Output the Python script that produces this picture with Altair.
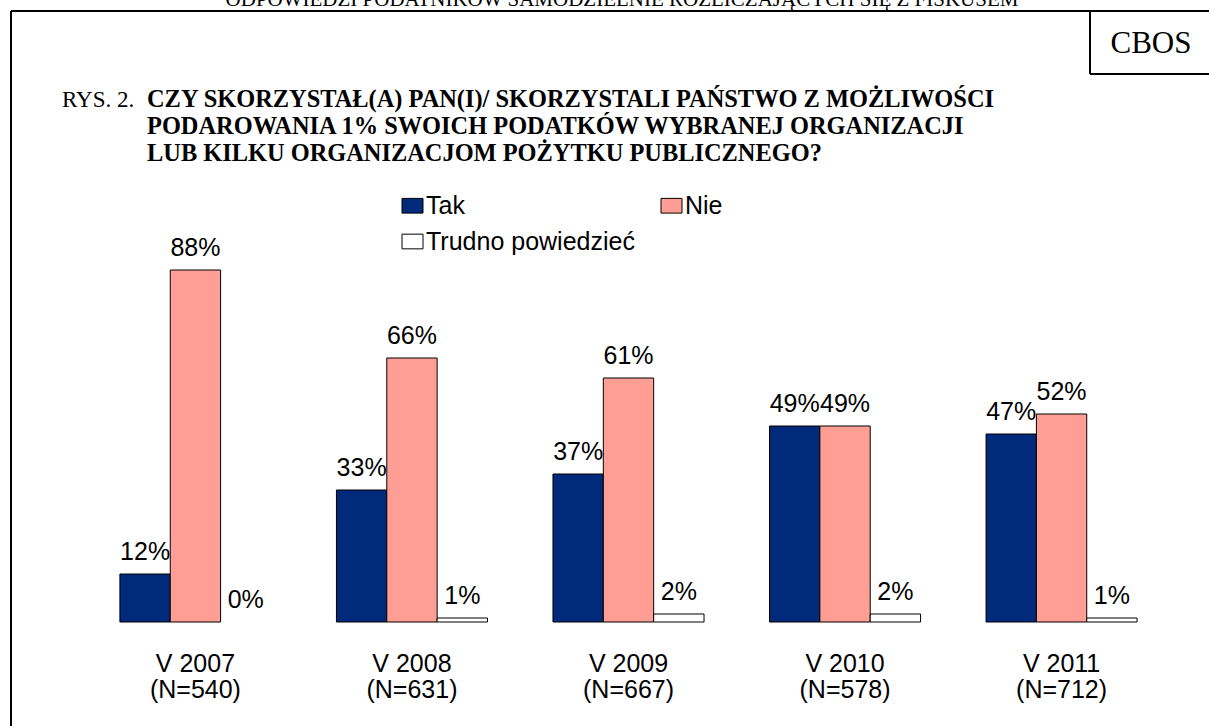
import altair as alt
import pandas as pd

# ---- data ----
years = ["V 2007", "V 2008", "V 2009", "V 2010", "V 2011"]
samples = ["(N=540)", "(N=631)", "(N=667)", "(N=578)", "(N=712)"]
series = ["Tak", "Nie", "Trudno powiedzieć"]
tak = [12, 33, 37, 49, 47]
nie = [88, 66, 61, 49, 52]
trudno = [0, 1, 2, 2, 1]
colors = ["#022a7a", "#ff9e94", "#ffffff"]

header = "ODPOWIEDZI PODATNIKÓW SAMODZIELNIE ROZLICZAJĄCYCH SIĘ Z FISKUSEM"
fig_no = "RYS. 2."
title_lines = [
    "CZY SKORZYSTAŁ(A) PAN(I)/ SKORZYSTALI PAŃSTWO Z MOŻLIWOŚCI",
    "PODAROWANIA 1% SWOICH PODATKÓW WYBRANEJ ORGANIZACJI",
    "LUB KILKU ORGANIZACJOM POŻYTKU PUBLICZNEGO?",
]
source = "CBOS"

rows = []
for i, yr in enumerate(years):
    for s, vals in zip(series, [tak, nie, trudno]):
        rows.append({"year": yr, "series": s, "value": vals[i], "label": f"{vals[i]}%"})
df = pd.DataFrame(rows)
cats = pd.DataFrame({"year": years, "n": samples})

# ---- layout ----
X0, Y0 = 87, 222          # plot-area origin in the page
W, H = 1083, 400
SANS = "Liberation Sans"
SERIF = "Liberation Serif"
FS = 25
one = alt.Data(values=[{}])

xscale = alt.Scale(paddingInner=0.3025, paddingOuter=0.152)
x = alt.X("year:N", sort=years, axis=None, scale=xscale)
xo = alt.XOffset("series:N", sort=series,
                 scale=alt.Scale(domain=series, paddingInner=0, paddingOuter=0))
y = alt.Y("value:Q", axis=None, scale=alt.Scale(domain=[0, 100]))

bars = alt.Chart(df).transform_filter("datum.value > 0").mark_bar(
    stroke="black", strokeWidth=1
).encode(
    x=x, xOffset=xo, y=y,
    color=alt.Color(
        "series:N",
        scale=alt.Scale(domain=series, range=colors),
        legend=alt.Legend(
            title=None, orient="none", legendX=400 - X0, legendY=193 - Y0,
            columns=2, padding=0,
            values=["Tak", "Trudno powiedzieć", "Nie"],
            symbolType="M-1,-0.7H1V0.7H-1Z", symbolSize=441,
            symbolStrokeColor="black", symbolStrokeWidth=1, symbolOpacity=1,
            labelFont=SANS, labelFontSize=FS, labelColor="black", labelOffset=1,
            labelLimit=500, columnPadding=24, rowPadding=10,
        ),
    ),
)

labels = alt.Chart(df).mark_text(
    font=SANS, fontSize=FS, baseline="alphabetic", dy=-14, color="black"
).encode(x=x, xOffset=xo, y=y, text="label:N")

cat1 = alt.Chart(cats).mark_text(
    font=SANS, fontSize=FS, baseline="alphabetic", color="black"
).encode(x=x, y=alt.value(672 - Y0), text="year:N")
cat2 = alt.Chart(cats).mark_text(
    font=SANS, fontSize=FS, baseline="alphabetic", color="black"
).encode(x=x, y=alt.value(698 - Y0), text="n:N")

def rule(x1, x2, y1, y2):
    return alt.Chart(one).mark_rule(color="black", strokeWidth=2).encode(
        x=alt.value(x1 - X0), x2=alt.value(x2 - X0),
        y=alt.value(y1 - Y0), y2=alt.value(y2 - Y0))

frame = [
    rule(11, 1209, 11, 11),
    rule(11, 11, 11, 730),
    rule(1090, 1090, 11, 74),
    rule(1090, 1209, 74, 74),
]

def txt(s, px, py, size, font=SERIF, weight="normal", align="left"):
    return alt.Chart(one).mark_text(
        text=s, font=font, fontSize=size, fontWeight=weight, align=align,
        baseline="alphabetic", color="black"
    ).encode(x=alt.value(px - X0), y=alt.value(py - Y0))

texts = [
    txt(header, 622, 6, 21, align="center"),
    txt(fig_no, 62, 107, 23),
    txt(source, 1151, 53, 31, align="center"),
]
for k, line in enumerate(title_lines):
    texts.append(txt(line, 147, 107 + 27 * k, 24.4, weight="bold"))

chart = alt.layer(bars, labels, cat1, cat2, *frame, *texts).properties(
    width=W, height=H,
    padding={"left": X0, "top": Y0, "right": 1209 - X0 - W, "bottom": 726 - Y0 - H},
    autosize="none",
).configure_view(stroke=None)

chart.save("out.html", embed_options={"renderer": "svg", "actions": False})
